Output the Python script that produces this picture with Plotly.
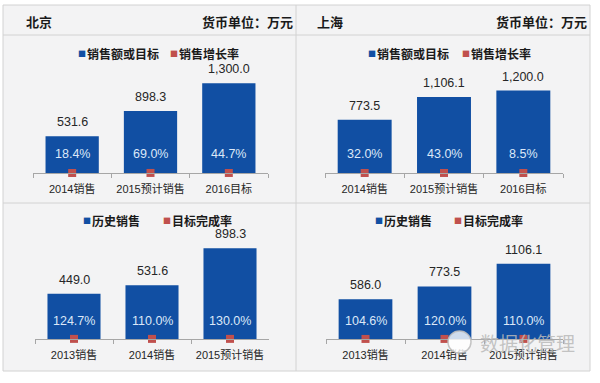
import plotly.graph_objects as go

W, H = 600, 383

# ---------------- data ----------------
bj_top_cats = ["2014销售", "2015预计销售", "2016目标"]
bj_top_sales = [531.6, 898.3, 1300.0]
bj_top_growth = [0.184, 0.690, 0.447]

sh_top_cats = ["2014销售", "2015预计销售", "2016目标"]
sh_top_sales = [773.5, 1106.1, 1200.0]
sh_top_growth = [0.320, 0.430, 0.085]

bj_bot_cats = ["2013销售", "2014销售", "2015预计销售"]
bj_bot_sales = [449.0, 531.6, 898.3]
bj_bot_rate = [1.247, 1.100, 1.300]

sh_bot_cats = ["2013销售", "2014销售", "2015预计销售"]
sh_bot_sales = [586.0, 773.5, 1106.1]
sh_bot_rate = [1.046, 1.200, 1.100]

top_legend = ["销售额或目标", "销售增长率"]
bot_legend = ["历史销售", "目标完成率"]
cities = ["北京", "上海"]
unit_text = "货币单位：万元"

BLUE = "#114fa3"
RED = "#c0504d"
NUM_FONT = "Liberation Sans, Noto Sans CJK SC"
CJK_FONT = "Noto Sans CJK SC"


def px_x(x):
    return x / W


def px_y(y):
    return 1 - y / H


panels = [
    dict(ax="", cats=bj_top_cats, vals=bj_top_sales, rates=bj_top_growth,
         xd=(33, 268), yd=(60, 173), ymax=1638, fmt="{:,.1f}",
         leg=top_legend, legx=(76, 85, 168, 177), legy=53, pshift=19),
    dict(ax="2", cats=sh_top_cats, vals=sh_top_sales, rates=sh_top_growth,
         xd=(325, 563), yd=(60, 173), ymax=1645, fmt="{:,.1f}",
         leg=top_legend, legx=(366, 375, 460, 469), legy=53, pshift=19),
    dict(ax="3", cats=bj_bot_cats, vals=bj_bot_sales, rates=bj_bot_rate,
         xd=(35, 269), yd=(230, 339), ymax=1079, fmt="{:.1f}",
         leg=bot_legend, legx=(81, 90, 161, 170), legy=220, pshift=18),
    dict(ax="4", cats=sh_bot_cats, vals=sh_bot_sales, rates=sh_bot_rate,
         xd=(326, 563), yd=(230, 339), ymax=1603, fmt="{:.1f}",
         leg=bot_legend, legx=(373, 382, 452, 461), legy=220, pshift=18),
]

fig = go.Figure()
annotations = []
layout_axes = {}

for p in panels:
    xa = "x" + p["ax"]
    ya = "y" + p["ax"]
    fig.add_trace(go.Bar(x=p["cats"], y=p["vals"], xaxis=xa, yaxis=ya,
                         marker=dict(color=BLUE, line=dict(width=0)),
                         width=0.68, showlegend=False, hoverinfo="skip"))
    fig.add_trace(go.Scatter(x=p["cats"], y=p["rates"], xaxis=xa, yaxis=ya,
                             mode="markers", cliponaxis=False,
                             marker=dict(symbol="square", size=8, color=RED),
                             showlegend=False, hoverinfo="skip"))
    layout_axes["xaxis" + p["ax"]] = dict(
        domain=[px_x(p["xd"][0]), px_x(p["xd"][1])], anchor=ya,
        type="category", range=[-0.5, 2.5], showgrid=False, zeroline=False,
        showline=True, linecolor="#a6a6a6", linewidth=1,
        ticks="outside", tickson="boundaries", ticklen=4, tickcolor="#a6a6a6",
        ticklabelstandoff=6,
        tickfont=dict(family=NUM_FONT, size=11, color="#262626"),
        fixedrange=True)
    layout_axes["yaxis" + p["ax"]] = dict(
        domain=[px_y(p["yd"][1]), px_y(p["yd"][0])], anchor=xa,
        range=[0, p["ymax"]], visible=False, showgrid=False, zeroline=False,
        fixedrange=True)
    for c, v, r in zip(p["cats"], p["vals"], p["rates"]):
        annotations.append(dict(x=c, y=v, xref=xa, yref=ya, text=p["fmt"].format(v),
                                showarrow=False, yanchor="bottom", yshift=5,
                                font=dict(family=NUM_FONT, size=12.5, color="#262626")))
        annotations.append(dict(x=c, y=0, xref=xa, yref=ya, text="{:.1%}".format(r),
                                showarrow=False, yanchor="middle", yshift=p["pshift"],
                                font=dict(family=NUM_FONT, size=12.5, color="#dce8f8")))
    # legend (drawn as text)
    lx = p["legx"]
    for sq_x, tx_x, color, label in ((lx[0], lx[1], BLUE, p["leg"][0]),
                                     (lx[2], lx[3], RED, p["leg"][1])):
        annotations.append(dict(x=px_x(sq_x), y=px_y(p["legy"]), xref="paper", yref="paper",
                                text="■", showarrow=False, xanchor="left", yanchor="middle",
                                font=dict(family=CJK_FONT, size=8, color=color)))
        annotations.append(dict(x=px_x(tx_x), y=px_y(p["legy"]), xref="paper", yref="paper",
                                text="<b>" + label + "</b>", showarrow=False,
                                xanchor="left", yanchor="middle",
                                font=dict(family=CJK_FONT, size=12, color="#1a1a1a")))

# header row texts
for name, lx_, rx_ in ((cities[0], 24, 295), (cities[1], 315, 589)):
    annotations.append(dict(x=px_x(lx_), y=px_y(21), xref="paper", yref="paper",
                            text="<b>" + name + "</b>", showarrow=False,
                            xanchor="left", yanchor="middle",
                            font=dict(family=CJK_FONT, size=13, color="#1a1a1a")))
    annotations.append(dict(x=px_x(rx_), y=px_y(21), xref="paper", yref="paper",
                            text="<b>" + unit_text + "</b>", showarrow=False,
                            xanchor="right", yanchor="middle",
                            font=dict(family=CJK_FONT, size=13, color="#1a1a1a")))

# watermark
annotations.append(dict(x=px_x(527), y=px_y(342), xref="paper", yref="paper",
                        text="数据化管理", showarrow=False, xanchor="center", yanchor="middle",
                        font=dict(family=CJK_FONT, size=19, color="rgba(185,185,185,0.85)")))

LINE = "#d2d2d2"
shapes = [
    dict(type="rect", xref="paper", yref="paper", x0=px_x(3), x1=px_x(590),
         y0=px_y(371), y1=px_y(5), fillcolor="#f3f3f4", line=dict(color=LINE, width=1),
         layer="below"),
    dict(type="line", xref="paper", yref="paper", x0=px_x(3), x1=px_x(590),
         y0=px_y(35), y1=px_y(35), line=dict(color=LINE, width=1), layer="below"),
    dict(type="line", xref="paper", yref="paper", x0=px_x(3), x1=px_x(590),
         y0=px_y(203), y1=px_y(203), line=dict(color=LINE, width=1), layer="below"),
    dict(type="line", xref="paper", yref="paper", x0=px_x(296), x1=px_x(296),
         y0=px_y(5), y1=px_y(371), line=dict(color=LINE, width=1), layer="below"),
    dict(type="circle", xref="paper", yref="paper", x0=px_x(448), x1=px_x(471),
         y0=px_y(353), y1=px_y(331), fillcolor="rgba(255,255,255,0.8)",
         line=dict(color="rgba(190,190,190,0.9)", width=1.5)),
]

fig.update_layout(
    width=W, height=H, margin=dict(l=0, r=0, t=0, b=0),
    paper_bgcolor="white", plot_bgcolor="rgba(0,0,0,0)",
    showlegend=False, annotations=annotations, shapes=shapes,
    **layout_axes,
)

fig.write_html("out.html", config=dict(displayModeBar=False),
               post_script="document.body.style.margin='0';document.body.style.padding='0';")
